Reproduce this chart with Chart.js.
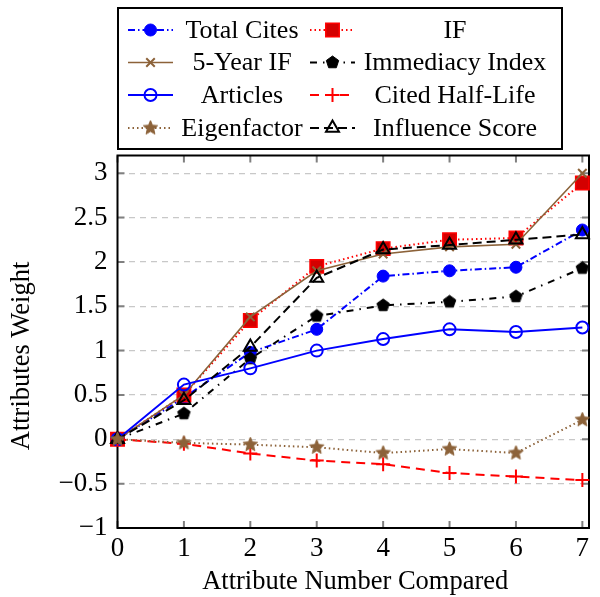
<!DOCTYPE html>
<html><head><meta charset="utf-8">
<script src="https://cdn.jsdelivr.net/npm/chart.js@4/dist/chart.umd.min.js"></script>
<style>html,body{margin:0;padding:0;background:#fff}#wrap{width:600px;height:597px;position:relative}</style>
</head><body><div id="wrap"><canvas id="c" width="600" height="597"></canvas></div>
<script>
const xValues = [0,1,2,3,4,5,6,7];
const xTicks = [0,1,2,3,4,5,6,7];
const yTicks = [-1,-0.5,0,0.5,1,1.5,2,2.5,3];
const totalCites = [0,0.47,0.98,1.24,1.84,1.90,1.94,2.36];
const impactFactor = [0,0.50,1.34,1.95,2.15,2.25,2.27,2.89];
const fiveYearIF = [0,0.50,1.38,1.90,2.09,2.17,2.20,3.0];
const immediacyIndex = [0,0.29,0.91,1.39,1.51,1.55,1.61,1.93];
const articles = [0,0.617,0.80,1.00,1.13,1.24,1.21,1.26];
const citedHalfLife = [0,-0.05,-0.16,-0.24,-0.28,-0.38,-0.42,-0.46];
const eigenfactor = [0,-0.04,-0.06,-0.09,-0.155,-0.11,-0.155,0.22];
const influenceScore = [0,0.44,1.04,1.82,2.14,2.19,2.25,2.31];
const seriesNames = ['Total Cites','IF','5-Year IF','Immediacy Index','Articles','Cited Half-Life','Eigenfactor','Influence Score'];
const xTitle = 'Attribute Number Compared';
const yTitle = 'Attributes Weight';

const FONT = '"Liberation Serif", "DejaVu Serif", serif';
const BROWN = '#8c6239';

function makeShape(kind, r, fill, stroke){
  const s = Math.ceil(r*2+4); const c = document.createElement('canvas'); c.width = s; c.height = s;
  const g = c.getContext('2d'); const cx = s/2, cy = s/2;
  g.beginPath();
  if(kind==='pentagon'){
    for(let i=0;i<5;i++){const a=-Math.PI/2+i*2*Math.PI/5; g.lineTo(cx+r*Math.cos(a), cy+r*Math.sin(a));}
  } else {
    for(let i=0;i<10;i++){const rr = i%2? r*0.45 : r; const a=-Math.PI/2+i*Math.PI/5; g.lineTo(cx+rr*Math.cos(a), cy+rr*Math.sin(a));}
  }
  g.closePath(); g.fillStyle=fill; g.fill(); g.lineWidth=1; g.strokeStyle=stroke; g.stroke();
  return c;
}
const pentagon = makeShape('pentagon', 6.5, '#000', '#000');
const star = makeShape('star', 7.5, BROWN, BROWN);

const seriesData = [totalCites, impactFactor, fiveYearIF, immediacyIndex, articles, citedHalfLife, eigenfactor, influenceScore];
const styles = [
  {color:'#0000ff', dash:[7,3,1.5,3], ps:'circle', r:6, fill:'#0000ff', bw:1, lw:2},
  {color:'#ff0000', dash:[1.5,3], ps:'rect', r:9.5, fill:'#d40000', bw:1.5, lw:2},
  {color:BROWN, dash:[], ps:'crossRot', r:6, fill:BROWN, bw:2, lw:1.6},
  {color:'#000000', dash:[7,6,1.5,6], ps:pentagon, r:6, fill:'#000', bw:1, lw:2},
  {color:'#0000ff', dash:[], ps:'circle', r:6, fill:'rgba(0,0,0,0)', bw:2, lw:2},
  {color:'#ff0000', dash:[9,6], ps:'cross', r:7, fill:'#ff0000', bw:2, lw:2},
  {color:BROWN, dash:[1.5,3], ps:star, r:7, fill:BROWN, bw:1, lw:2},
  {color:'#000000', dash:[9,5], ps:'triangle', r:7.5, fill:'rgba(0,0,0,0)', bw:2, lw:2}
];
const drawOrder = [20,19,18,17,16,15,1,13];

const datasets = seriesNames.map((name,i)=>({
  label: name,
  data: xValues.map((x,j)=>({x:x, y:seriesData[i][j]})),
  borderColor: styles[i].color,
  backgroundColor: styles[i].fill,
  borderWidth: styles[i].lw,
  borderDash: styles[i].dash,
  pointStyle: styles[i].ps,
  pointRadius: styles[i].r,
  pointBorderWidth: styles[i].bw,
  pointBorderColor: styles[i].color,
  pointBackgroundColor: styles[i].fill,
  tension: 0,
  clip: false,
  order: drawOrder[i]
}));

const deco = {
  id:'deco',
  beforeDatasetsDraw(chart){
    const ctx = chart.ctx, a = chart.chartArea, xs = chart.scales.x, ys = chart.scales.y;
    ctx.save();
    ctx.strokeStyle='#808080'; ctx.lineWidth=2; ctx.setLineDash([]);
    ctx.beginPath();
    yTicks.forEach(v=>{const p=ys.getPixelForValue(v); ctx.moveTo(a.left,p); ctx.lineTo(a.left+7,p); ctx.moveTo(a.right,p); ctx.lineTo(a.right-7,p);});
    xTicks.forEach(v=>{const p=xs.getPixelForValue(v); ctx.moveTo(p,a.bottom); ctx.lineTo(p,a.bottom-7); ctx.moveTo(p,a.top); ctx.lineTo(p,a.top+7);});
    ctx.stroke();
    ctx.strokeStyle='#000'; ctx.lineWidth=2;
    ctx.strokeRect(a.left,a.top,a.right-a.left,a.bottom-a.top);
    ctx.restore();
  },
  afterDraw(chart){
    const ctx = chart.ctx, a = chart.chartArea;
    ctx.save();
    ctx.fillStyle='#000'; ctx.font='26.5px '+FONT; ctx.textAlign='center'; ctx.textBaseline='middle';
    ctx.fillText(xTitle, (a.left+a.right)/2 + 2, 582);
    ctx.save(); ctx.translate(22, 356); ctx.rotate(-Math.PI/2); ctx.fillText(yTitle, 0, 0); ctx.restore();
    ctx.fillStyle='#fff'; ctx.fillRect(118,8,444,141);
    ctx.strokeStyle='#000'; ctx.lineWidth=2; ctx.setLineDash([]);
    ctx.strokeRect(118,8,444,141);
    const rowY = [30, 62.5, 95, 128];
    chart.data.datasets.forEach((ds,i)=>{
      const col = i%2, row = Math.floor(i/2);
      const x0 = col ? 310 : 128, len = 45, y = rowY[row];
      const st = styles[i];
      ctx.strokeStyle = st.color; ctx.lineWidth = st.lw; ctx.setLineDash(st.dash);
      ctx.beginPath(); ctx.moveTo(x0,y); ctx.lineTo(x0+len,y); ctx.stroke();
      ctx.setLineDash([]);
      ctx.fillStyle = st.fill; ctx.strokeStyle = st.color; ctx.lineWidth = st.bw;
      Chart.helpers.drawPoint(ctx, {pointStyle: st.ps, radius: st.r, borderWidth: st.bw, rotation: 0}, x0+len/2, y);
      ctx.fillStyle='#000'; ctx.font='26px '+FONT; ctx.textAlign='center'; ctx.textBaseline='middle';
      ctx.fillText(ds.label, col ? 455 : 242, y+1);
    });
    ctx.restore();
  }
};

new Chart(document.getElementById('c'), {
  type: 'line',
  data: { datasets },
  options: {
    responsive: false,
    animation: false,
    devicePixelRatio: 1,
    layout: { padding: { top: 155.5, right: 3, left: 0, bottom: 0 } },
    plugins: { legend: { display: false }, tooltip: { enabled: false } },
    scales: {
      x: {
        type: 'linear', min: 0, max: 7.1,
        afterBuildTicks: s => { s.ticks = xTicks.map(v=>({value:v})); },
        afterFit: s => { s.height = 69; },
        grid: { display: false, drawTicks: false },
        border: { display: false },
        ticks: { color:'#000', font: { family: FONT, size: 27 }, padding: 5, maxRotation: 0, autoSkip: false,
          callback: v => String(v) }
      },
      y: {
        type: 'linear', min: -1, max: 3.2,
        afterBuildTicks: s => { s.ticks = yTicks.map(v=>({value:v})); },
        afterFit: s => { s.width = 117.5; },
        grid: { color: '#c8c8c8', lineWidth: 1.3, drawTicks: false },
        border: { display: false, dash: [6,5] },
        ticks: { color:'#000', font: { family: FONT, size: 27 }, padding: 10, autoSkip: false,
          callback: v => (v < 0 ? '\u2212' + String(-v) : String(v)) }
      }
    }
  },
  plugins: [deco]
});
</script>
</body></html>
